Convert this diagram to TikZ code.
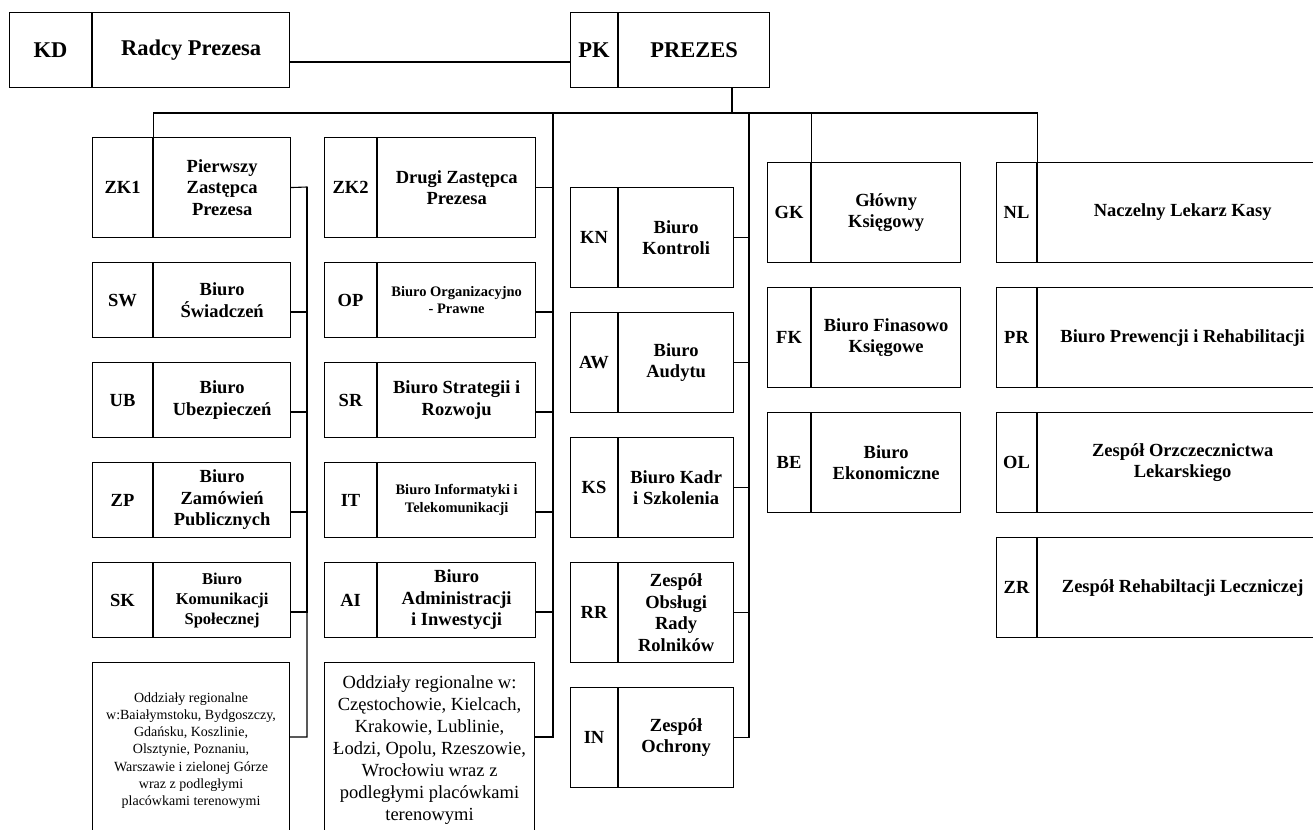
\documentclass[tikz,border=0pt]{standalone}
\usepackage{fontspec}
\setmainfont{Liberation Serif}
\tikzset{
  kod/.style={draw, anchor=north west, inner sep=0pt, align=center, font=\bfseries\fontsize{18.5}{21.5}\selectfont},
  nazwa/.style={kod},
  duzy/.style={font=\bfseries\fontsize{22.5}{26}\selectfont},
  sredni/.style={font=\bfseries\fontsize{16.5}{20}\selectfont},
  maly/.style={font=\bfseries\fontsize{14.5}{17.7}\selectfont},
  oddzial/.style={draw, anchor=north west, inner sep=0pt, align=center, minimum height=176},
}
\begin{document}
\begin{tikzpicture}[x=1pt,y=-1pt,line width=1.1pt]
\useasboundingbox (0,0) rectangle (1313,829);
\clip (0,0) rectangle (1313,829);
% gora
\node[kod,duzy,minimum width=82,minimum height=75] (kkd) at (9,12) {KD};
\node[nazwa,duzy,minimum width=197,minimum height=75] (kd) at (kkd.north east) {Radcy Prezesa};
\node[kod,duzy,minimum width=47,minimum height=75] (kpk) at (570,12) {PK};
\node[nazwa,duzy,minimum width=151,minimum height=75] (pk) at (kpk.north east) {PREZES};
% kolumna 1
\node[kod,minimum width=60,minimum height=100] (kzk1) at (92,137) {ZK1};
\node[nazwa,minimum width=137,minimum height=100] (zk1) at (kzk1.north east) {Pierwszy\\Zastępca\\Prezesa};
\node[kod,minimum width=60,minimum height=75] (ksw) at (92,262) {SW};
\node[nazwa,minimum width=137,minimum height=75] (sw) at (ksw.north east) {Biuro\\Świadczeń};
\node[kod,minimum width=60,minimum height=75] (kub) at (92,362) {UB};
\node[nazwa,minimum width=137,minimum height=75] (ub) at (kub.north east) {Biuro\\Ubezpieczeń};
\node[kod,minimum width=60,minimum height=75] (kzp) at (92,462) {ZP};
\node[nazwa,minimum width=137,minimum height=75] (zp) at (kzp.north east) {Biuro\\Zamówień\\Publicznych};
\node[kod,minimum width=60,minimum height=75] (ksk) at (92,562) {SK};
\node[nazwa,sredni,minimum width=137,minimum height=75] (sk) at (ksk.north east) {Biuro\\Komunikacji\\Społecznej};
\node[oddzial,minimum width=197,font=\fontsize{14}{17.3}\selectfont] (odd1) at (92,662) {Oddziały regionalne\\w:Baiałymstoku, Bydgoszczy,\\Gdańsku, Koszlinie,\\Olsztynie, Poznaniu,\\Warszawie i zielonej Górze\\wraz z podległymi\\placówkami terenowymi};
% kolumna 2
\node[kod,minimum width=52,minimum height=100] (kzk2) at (324,137) {ZK2};
\node[nazwa,minimum width=158,minimum height=100] (zk2) at (kzk2.north east) {Drugi Zastępca\\Prezesa};
\node[kod,minimum width=52,minimum height=75] (kop) at (324,262) {OP};
\node[nazwa,maly,minimum width=158,minimum height=75] (op) at (kop.north east) {Biuro Organizacyjno\\- Prawne};
\node[kod,minimum width=52,minimum height=75] (ksr) at (324,362) {SR};
\node[nazwa,minimum width=158,minimum height=75] (sr) at (ksr.north east) {Biuro Strategii i\\Rozwoju};
\node[kod,minimum width=52,minimum height=75] (kit) at (324,462) {IT};
\node[nazwa,maly,minimum width=158,minimum height=75] (it) at (kit.north east) {Biuro Informatyki i\\Telekomunikacji};
\node[kod,minimum width=52,minimum height=75] (kai) at (324,562) {AI};
\node[nazwa,minimum width=158,minimum height=75] (ai) at (kai.north east) {Biuro\\Administracji\\i Inwestycji};
\node[oddzial,minimum width=210,font=\fontsize{18.5}{22}\selectfont] (odd2) at (324,662) {Oddziały regionalne w:\\Częstochowie, Kielcach,\\Krakowie, Lublinie,\\Łodzi, Opolu, Rzeszowie,\\Wrocłowiu wraz z\\podległymi placówkami\\terenowymi};
% kolumna 3
\node[kod,minimum width=47,minimum height=100] (kkn) at (570,187) {KN};
\node[nazwa,minimum width=115,minimum height=100] (kn) at (kkn.north east) {Biuro\\Kontroli};
\node[kod,minimum width=47,minimum height=100] (kaw) at (570,312) {AW};
\node[nazwa,minimum width=115,minimum height=100] (aw) at (kaw.north east) {Biuro\\Audytu};
\node[kod,minimum width=47,minimum height=100] (kks) at (570,437) {KS};
\node[nazwa,minimum width=115,minimum height=100] (ks) at (kks.north east) {Biuro Kadr\\i Szkolenia};
\node[kod,minimum width=47,minimum height=100] (krr) at (570,562) {RR};
\node[nazwa,minimum width=115,minimum height=100] (rr) at (krr.north east) {Zespół\\Obsługi\\Rady\\Rolników};
\node[kod,minimum width=47,minimum height=100] (kinn) at (570,687) {IN};
\node[nazwa,minimum width=115,minimum height=100] (inn) at (kinn.north east) {Zespół\\Ochrony};
% kolumna 4
\node[kod,minimum width=43,minimum height=100] (kgk) at (767,162) {GK};
\node[nazwa,minimum width=149,minimum height=100] (gk) at (kgk.north east) {Główny\\Księgowy};
\node[kod,minimum width=43,minimum height=100] (kfk) at (767,287) {FK};
\node[nazwa,minimum width=149,minimum height=100] (fk) at (kfk.north east) {Biuro Finasowo\\Księgowe};
\node[kod,minimum width=43,minimum height=100] (kbe) at (767,412) {BE};
\node[nazwa,minimum width=149,minimum height=100] (be) at (kbe.north east) {Biuro\\Ekonomiczne};
% kolumna 5
\node[kod,minimum width=40,minimum height=100] (knl) at (996,162) {NL};
\node[nazwa,minimum width=290,minimum height=100] (nl) at (knl.north east) {Naczelny Lekarz Kasy};
\node[kod,minimum width=40,minimum height=100] (kpr) at (996,287) {PR};
\node[nazwa,minimum width=290,minimum height=100] (pr) at (kpr.north east) {Biuro Prewencji i Rehabilitacji};
\node[kod,minimum width=40,minimum height=100] (kol) at (996,412) {OL};
\node[nazwa,minimum width=290,minimum height=100] (ol) at (kol.north east) {Zespół Orzczecznictwa\\Lekarskiego};
\node[kod,minimum width=40,minimum height=100] (kzr) at (996,537) {ZR};
\node[nazwa,minimum width=290,minimum height=100] (zr) at (kzr.north east) {Zespół Rehabiltacji Leczniczej};
% linie
\coordinate (szyna) at (732,113);
\coordinate (w1) at (307,187);
\coordinate (w2) at (553,113);
\coordinate (w3) at (749,113);
\coordinate (odd1s) at ([yshift=-75pt]odd1.north east);
\coordinate (odd2s) at ([yshift=-75pt]odd2.north east);
\draw ([yshift=-50pt]kd.north east) -- ([yshift=-50pt]kpk.north west);
\draw (pk.south -| szyna) -- (szyna);
\draw (kzk1.north east) |- (szyna);
\draw (knl.north east) |- (szyna);
\draw (kgk.north east) |- (szyna);
\draw (zk1.east) -- (w1) |- (odd1s);
\draw (w1) |- ([yshift=-50pt]sw.north east);
\draw (w1) |- ([yshift=-50pt]ub.north east);
\draw (w1) |- ([yshift=-50pt]zp.north east);
\draw (w1) |- ([yshift=-50pt]sk.north east);
\draw (w2) |- (odd2s);
\draw (w2) |- (zk2.east);
\draw (w2) |- ([yshift=-50pt]op.north east);
\draw (w2) |- ([yshift=-50pt]sr.north east);
\draw (w2) |- ([yshift=-50pt]it.north east);
\draw (w2) |- ([yshift=-50pt]ai.north east);
\draw (w3) |- (inn.east);
\draw (w3) |- (kn.east);
\draw (w3) |- (aw.east);
\draw (w3) |- (ks.east);
\draw (w3) |- (rr.east);
\end{tikzpicture}
\end{document}
